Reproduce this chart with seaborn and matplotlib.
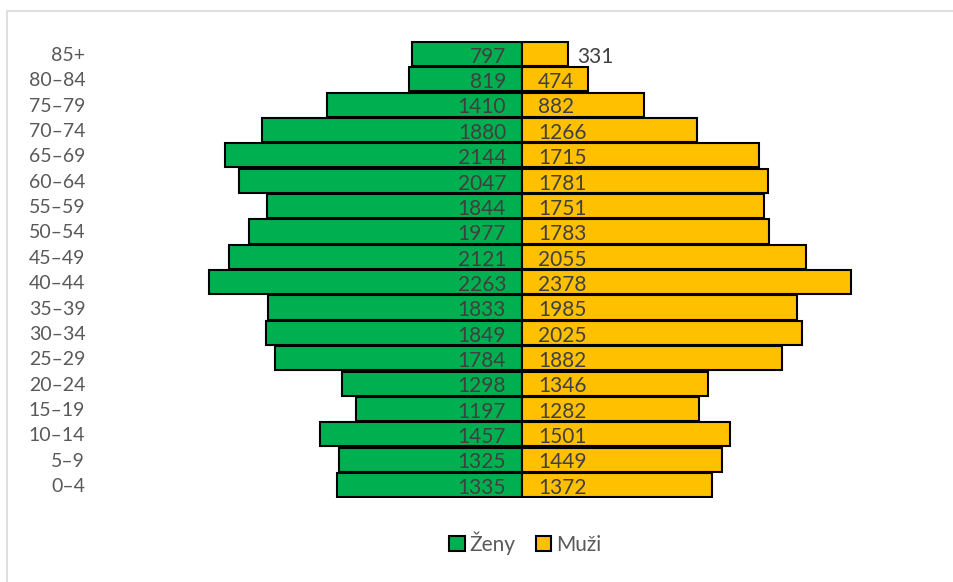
import matplotlib
matplotlib.use("Agg")
import matplotlib.pyplot as plt
import matplotlib.patches as mpatches
import pandas as pd
import seaborn as sns

# ── Data ──────────────────────────────────────────────────────────────────────
ages  = ["0–4", "5–9", "10–14", "15–19", "20–24", "25–29", "30–34", "35–39",
         "40–44", "45–49", "50–54", "55–59", "60–64", "65–69", "70–74",
         "75–79", "80–84", "85+"]
women = [1335, 1325, 1457, 1197, 1298, 1784, 1849, 1833, 2263, 2121,
         1977, 1844, 2047, 2144, 1880, 1410, 819, 797]
men   = [1372, 1449, 1501, 1282, 1346, 1882, 2025, 1985, 2378, 2055,
         1783, 1751, 1781, 1715, 1266, 882, 474, 331]

COL_W = "#00B050"
COL_M = "#FFC000"
TXT   = "#404040"

df = pd.DataFrame({"age": ages, "women": women, "men": men})
df["women_neg"] = -df["women"]
order = ages[::-1]

# ── Figure ────────────────────────────────────────────────────────────────────
sns.set_style("white")
plt.rcParams["font.family"] = ["Lato", "DejaVu Sans"]

W, H = 954, 582
fig = plt.figure(figsize=(W / 100, H / 100), dpi=100)
ax = fig.add_axes([95 / W, (H - 497.7) / H, (945 - 95) / W, (497.7 - 41.3) / H])

sns.barplot(data=df, y="age", x="women_neg", order=order, orient="h",
            color=COL_W, saturation=1, width=0.95, edgecolor="black",
            linewidth=1.5, ax=ax)
sns.barplot(data=df, y="age", x="men", order=order, orient="h",
            color=COL_M, saturation=1, width=0.95, edgecolor="black",
            linewidth=1.5, ax=ax)

scale = 0.1383  # px per person
ax.set_xlim(-(522 - 95) / scale, (945 - 522) / scale)
ax.set_ylim(len(ages) - 0.5, -0.5)

# value labels
for i, age in enumerate(order):
    r = df.loc[df["age"] == age].iloc[0]
    ax.annotate(f"{r.women}", xy=(0, i), xytext=(-11.5, -6.3),
                textcoords="offset points", ha="right", va="baseline",
                fontsize=15, color=TXT)
    if r.men < 400:
        ax.annotate(f"{r.men}", xy=(r.men, i), xytext=(7, -6.3),
                    textcoords="offset points", ha="left", va="baseline",
                    fontsize=15, color=TXT)
    else:
        ax.annotate(f"{r.men}", xy=(0, i), xytext=(11.5, -6.3),
                    textcoords="offset points", ha="left", va="baseline",
                    fontsize=15, color=TXT)

ax.set_xlabel("")
ax.set_ylabel("")
ax.set_xticks([])
ax.tick_params(axis="y", length=0, pad=7, labelsize=14, labelcolor="#595959")
for s in ax.spines.values():
    s.set_visible(False)

# legend
handles = [
    mpatches.Patch(facecolor=COL_W, edgecolor="black", linewidth=1.5, label="Ženy"),
    mpatches.Patch(facecolor=COL_M, edgecolor="black", linewidth=1.5, label="Muži"),
]
fig.legend(handles=handles, loc="center", bbox_to_anchor=(525 / W, 1 - 543 / H),
           ncol=2, frameon=False, fontsize=15, labelcolor="#595959",
           handlelength=0.75, handleheight=0.75, handletextpad=0.2,
           columnspacing=1.0)

# chart border
fig.patches.append(mpatches.Rectangle((7 / W, -0.05), 1.1, 1 - 11 / H + 0.05,
                                      transform=fig.transFigure, fill=False,
                                      edgecolor="#D9D9D9", linewidth=1.2))

fig.savefig("out.png", dpi=100)
plt.close(fig)
